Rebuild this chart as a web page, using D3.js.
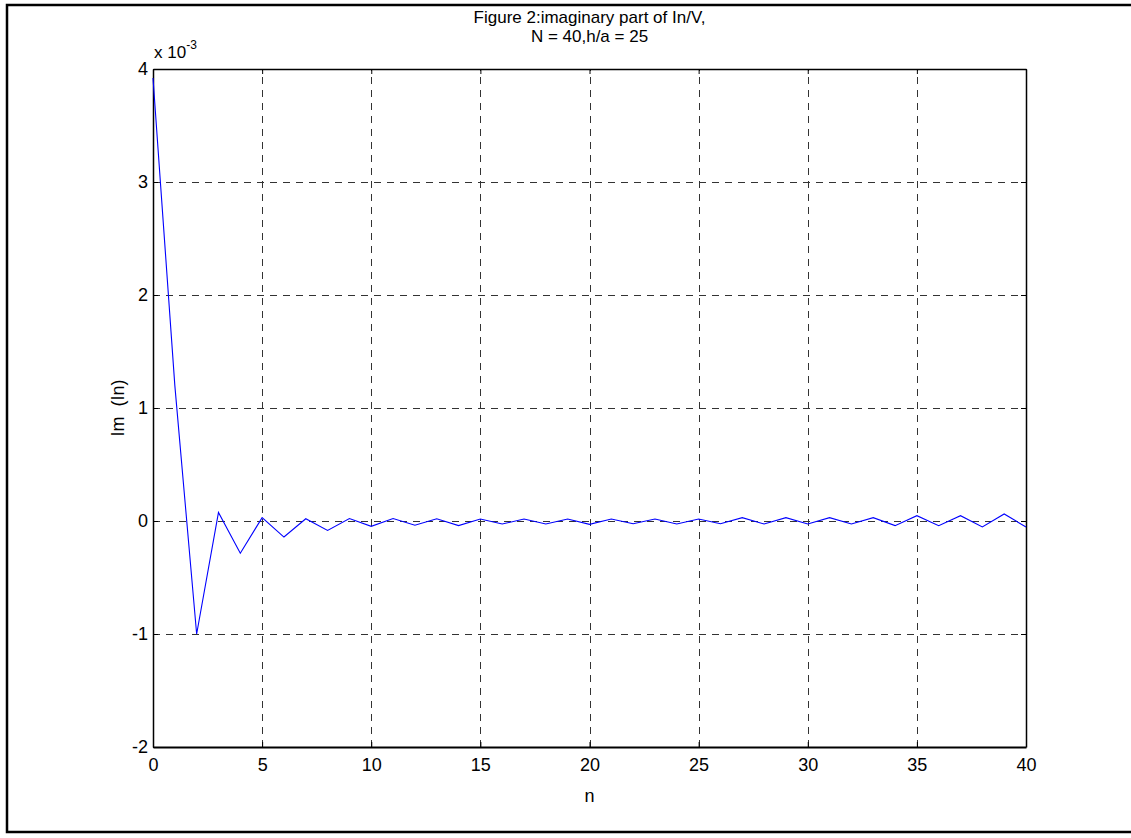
<!DOCTYPE html>
<html>
<head>
<meta charset="utf-8">
<script src="https://cdn.jsdelivr.net/npm/d3@7"></script>
<style>
  html, body { margin: 0; padding: 0; background: #fff; }
  svg text { font-family: "Liberation Sans", Arial, sans-serif; fill: #000; white-space: pre; }
</style>
</head>
<body>
<svg id="chart" width="1131" height="838"></svg>
<script>
// ---- data (values in units of 1e-3) ----
const nValues = d3.range(0, 41);
const imIn = [
  3.92, 1.20, -1.00, 0.075, -0.285, 0.030, -0.142, 0.020, -0.083, 0.022,
  -0.047, 0.022, -0.038, 0.020, -0.041, 0.018, -0.027, 0.018, -0.027, 0.018,
  -0.030, 0.018, -0.024, 0.018, -0.027, 0.018, -0.024, 0.030, -0.027, 0.030,
  -0.027, 0.030, -0.027, 0.030, -0.041, 0.047, -0.041, 0.047, -0.053, 0.062,
  -0.053
];
const xTicks = [0, 5, 10, 15, 20, 25, 30, 35, 40];
const yTicks = [-2, -1, 0, 1, 2, 3, 4];
const titleLines = ["Figure 2:imaginary part of In/V,", "N = 40,h/a = 25"];
const xLabel = "n";
const yLabel = "Im  (In)";
const exponentBase = "x 10";
const exponentPower = "-3";

// ---- layout ----
const svg = d3.select("#chart");
const plot = { left: 153, top: 69, right: 1026, bottom: 747 };

const x = d3.scaleLinear().domain([0, 40]).range([plot.left, plot.right]);
const y = d3.scaleLinear().domain([-2, 4]).range([plot.bottom, plot.top]);

// outer frame
svg.append("path")
  .attr("d", "M1133,5 H7 V832 H1133")
  .attr("fill", "none").attr("stroke", "#000").attr("stroke-width", 2.5);

// grid
const grid = svg.append("g").attr("stroke", "#333").attr("stroke-width", 1)
  .attr("stroke-dasharray", "7,6").attr("fill", "none");
grid.selectAll("line.gx").data(xTicks.slice(1, -1)).join("line")
  .attr("class", "gx")
  .attr("x1", d => Math.round(x(d)) + 0.5).attr("x2", d => Math.round(x(d)) + 0.5)
  .attr("y1", plot.bottom).attr("y2", plot.top);
grid.selectAll("line.gy").data(yTicks.slice(1, -1)).join("line")
  .attr("class", "gy")
  .attr("x1", plot.left).attr("x2", plot.right)
  .attr("y1", d => Math.round(y(d)) + 0.5).attr("y2", d => Math.round(y(d)) + 0.5);

// axes
const fs = 18;
const fmt = d => String(d);
const xAxis = d3.axisBottom(x).tickValues(xTicks).tickFormat(fmt).tickSize(-5).tickPadding(11).tickSizeOuter(0);
const gx = svg.append("g").attr("transform", `translate(0,${plot.bottom})`).call(xAxis);
const xAxisTop = d3.axisTop(x).tickValues(xTicks).tickSize(-5).tickFormat("").tickSizeOuter(0);
const gxt = svg.append("g").attr("transform", `translate(0,${plot.top})`).call(xAxisTop);
const yAxis = d3.axisLeft(y).tickValues(yTicks).tickFormat(fmt).tickSize(-5).tickPadding(5).tickSizeOuter(0);
const gy = svg.append("g").attr("transform", `translate(${plot.left},0)`).call(yAxis);
const yAxisR = d3.axisRight(y).tickValues(yTicks).tickSize(-5).tickFormat("").tickSizeOuter(0);
const gyr = svg.append("g").attr("transform", `translate(${plot.right},0)`).call(yAxisR);

[gx, gxt, gy, gyr].forEach(g => {
  g.selectAll(".domain").attr("stroke", "#000").attr("stroke-width", 1.5);
  g.selectAll(".tick line").attr("stroke", "#000");
  g.selectAll("text").attr("font-size", fs).attr("font-family", null).attr("fill", "#000");
});
gx.select(".domain").attr("stroke-width", 2);

// data line
const line = d3.line().x((d, i) => x(nValues[i])).y(d => y(d));
svg.append("path").datum(imIn)
  .attr("d", line).attr("fill", "none").attr("stroke", "#0000ff").attr("stroke-width", 1.1);

// title
const cx = (plot.left + plot.right) / 2;
svg.append("text").attr("x", cx).attr("y", 23)
  .attr("text-anchor", "middle").attr("font-size", 17).text(titleLines[0]);
svg.append("text").attr("x", cx).attr("y", 42)
  .attr("text-anchor", "middle").attr("font-size", 17).text(titleLines[1]);

// exponent
const ex = svg.append("text").attr("x", 154).attr("y", 58).attr("font-size", 17);
ex.append("tspan").text(exponentBase);
ex.append("tspan").attr("dy", -9).attr("font-size", 12).text(exponentPower);

// axis labels
svg.append("text").attr("x", cx).attr("y", 802)
  .attr("text-anchor", "middle").attr("font-size", fs).text(xLabel);
svg.append("text").attr("transform", `translate(124,${(plot.top + plot.bottom) / 2}) rotate(-90)`)
  .attr("text-anchor", "middle").attr("font-size", fs).text(yLabel);
</script>
</body>
</html>
